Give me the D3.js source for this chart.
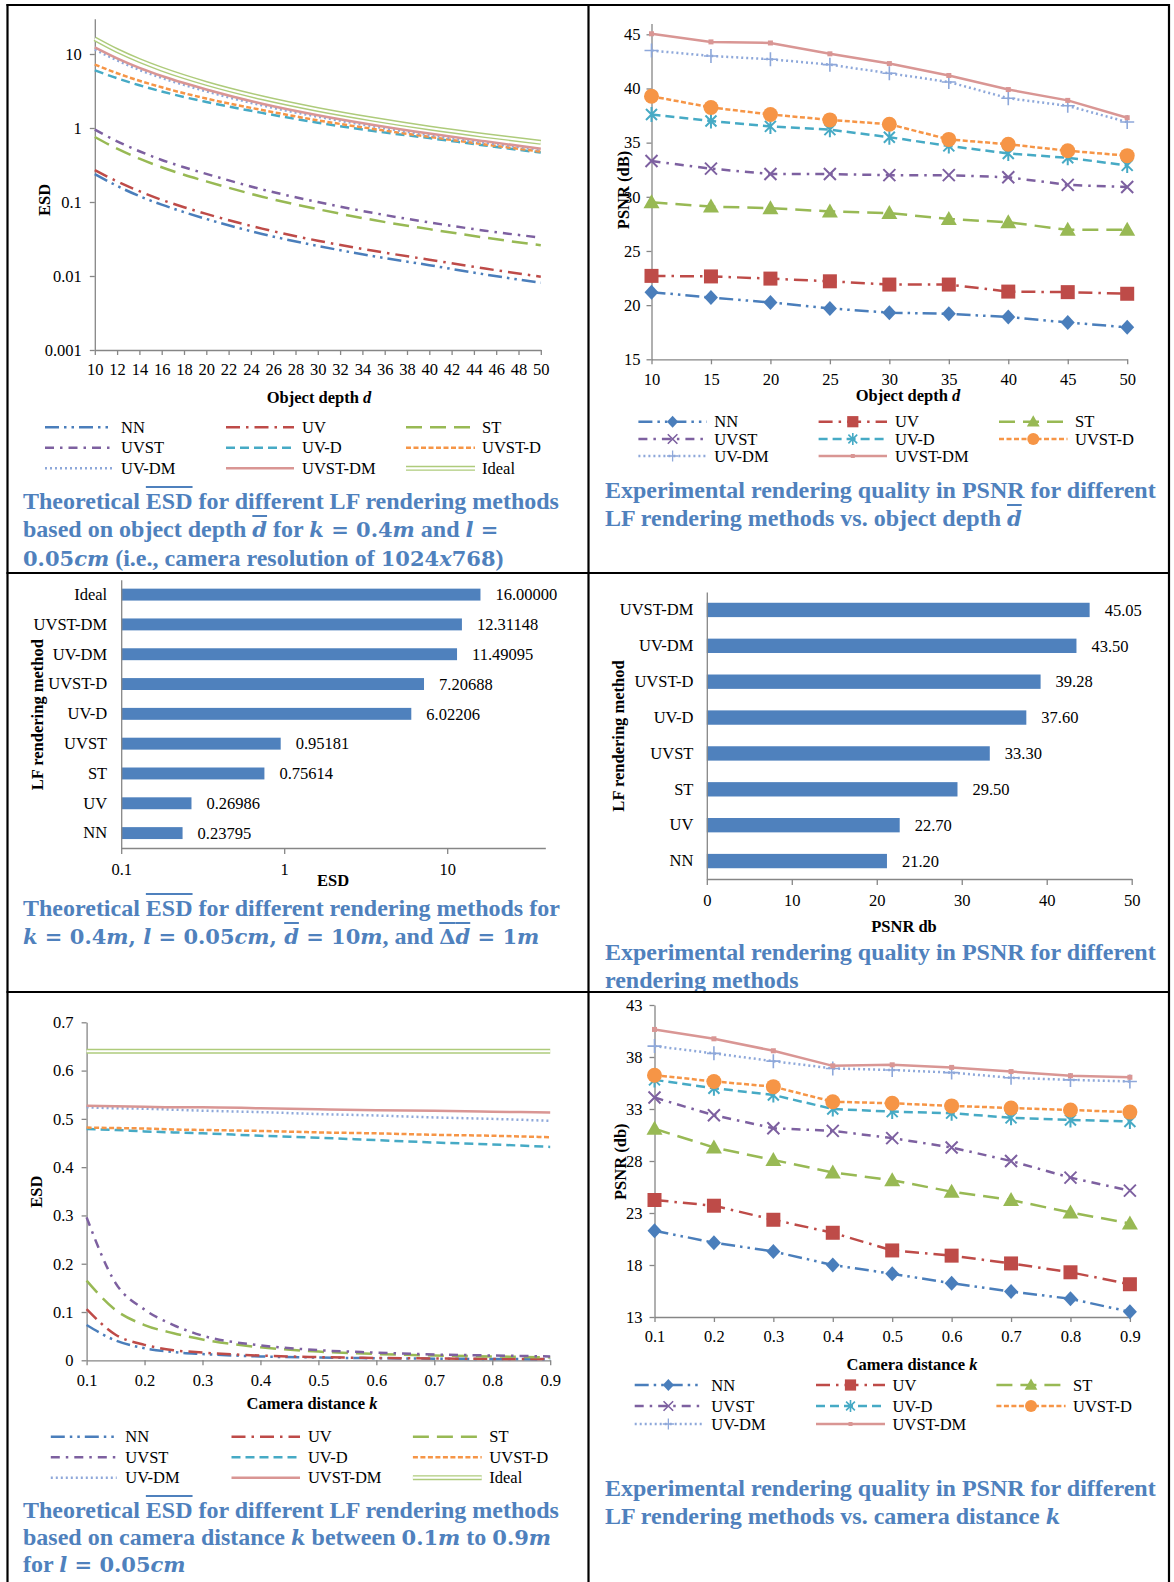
<!DOCTYPE html>
<html>
<head>
<meta charset="utf-8">
<script src="https://cdn.jsdelivr.net/npm/d3@7"></script>
<style>
  body { margin: 0; background: #fff; }
  #wrap { position: relative; width: 1174px; height: 1582px; overflow: hidden; background: #fff; }
  #wrap svg { position: absolute; left: 0; top: 0; }
  .cap { position: absolute; font-family: "Liberation Serif", "Times New Roman", serif; font-weight: bold;
         font-size: 24px; color: #4F81BD; line-height: 28px; white-space: nowrap; }
  .cap.tight { line-height: 27px; }
  .m { font-family: "DejaVu Serif", serif; font-size: 21px; }
  .ov { text-decoration: overline; text-decoration-thickness: 1.5px; }
</style>
</head>
<body>
<div id="wrap"></div>
<script>
// ---------- data ----------
const seriesNames = ["NN", "UV", "ST", "UVST", "UV-D", "UVST-D", "UV-DM", "UVST-DM", "Ideal"];

// Theoretical ESD vs object depth d (k = 0.4 m, l = 0.05 cm)
const depthD = [10, 12, 14, 16, 18, 20, 25, 30, 35, 40, 45, 50];
const esdDepthNN      = [0.238, 0.165, 0.12, 0.092, 0.073, 0.059, 0.037, 0.0255, 0.0185, 0.014, 0.0105, 0.0081];
const esdDepthUV      = [0.27, 0.19, 0.14, 0.107, 0.085, 0.069, 0.0437, 0.030, 0.0219, 0.0166, 0.0126, 0.0098];
const esdDepthST      = [0.756, 0.525, 0.385, 0.295, 0.233, 0.19, 0.118, 0.08, 0.057, 0.043, 0.033, 0.026];
const esdDepthUVST    = [0.952, 0.66, 0.485, 0.37, 0.295, 0.24, 0.148, 0.10, 0.071, 0.053, 0.041, 0.033];
const esdDepthUVD     = [6.02, 4.7, 3.78, 3.12, 2.62, 2.25, 1.6, 1.18, 0.91, 0.73, 0.58, 0.465];
const esdDepthUVSTD   = [7.21, 5.5, 4.35, 3.55, 2.95, 2.5, 1.75, 1.27, 0.97, 0.76, 0.6, 0.48];
const esdDepthUVDM    = [11.49, 8.2, 6.1, 4.75, 3.82, 3.13, 2.02, 1.42, 1.05, 0.80, 0.63, 0.51];
const esdDepthUVSTDM  = [12.31, 8.75, 6.5, 5.05, 4.05, 3.32, 2.13, 1.49, 1.1, 0.84, 0.66, 0.525];
const esdDepthIdeal   = [16, 11.11, 8.16, 6.25, 4.94, 4.0, 2.56, 1.78, 1.31, 1.0, 0.79, 0.64];
const esdDepthTicks   = [0.001, 0.01, 0.1, 1, 10];

// Experimental PSNR vs object depth d
const psnrDepthD        = [10, 15, 20, 25, 30, 35, 40, 45, 50];
const psnrDepthNN       = [21.2, 20.7, 20.25, 19.7, 19.3, 19.2, 18.9, 18.4, 17.95];
const psnrDepthUV       = [22.7, 22.65, 22.45, 22.2, 21.9, 21.9, 21.25, 21.2, 21.05];
const psnrDepthST       = [29.5, 29.1, 28.95, 28.65, 28.5, 27.95, 27.65, 26.95, 26.95];
const psnrDepthUVST     = [33.3, 32.6, 32.1, 32.1, 32.0, 32.0, 31.8, 31.1, 30.9];
const psnrDepthUVD      = [37.6, 37.0, 36.5, 36.2, 35.5, 34.7, 34.0, 33.6, 32.9];
const psnrDepthUVSTD    = [39.28, 38.25, 37.6, 37.1, 36.7, 35.3, 34.85, 34.25, 33.8];
const psnrDepthUVDM     = [43.5, 43.0, 42.7, 42.2, 41.4, 40.6, 39.1, 38.4, 36.9];
const psnrDepthUVSTDM   = [45.05, 44.3, 44.2, 43.2, 42.3, 41.2, 39.9, 38.9, 37.3];
const psnrDepthTicks    = [15, 20, 25, 30, 35, 40, 45];

// Theoretical ESD per method (k = 0.4 m, l = 0.05 cm, d = 10 m)
const barEsdMethods = ["Ideal", "UVST-DM", "UV-DM", "UVST-D", "UV-D", "UVST", "ST", "UV", "NN"];
const barEsdValues  = [16.0, 12.31148, 11.49095, 7.20688, 6.02206, 0.95181, 0.75614, 0.26986, 0.23795];
const barEsdTicks   = [0.1, 1, 10];

// Experimental PSNR per method
const barPsnrMethods = ["UVST-DM", "UV-DM", "UVST-D", "UV-D", "UVST", "ST", "UV", "NN"];
const barPsnrValues  = [45.05, 43.50, 39.28, 37.60, 33.30, 29.50, 22.70, 21.20];
const barPsnrTicks   = [0, 10, 20, 30, 40, 50];

// Theoretical ESD vs camera distance k (l = 0.05 cm)
const camK            = [0.1, 0.15, 0.2, 0.25, 0.3, 0.4, 0.5, 0.6, 0.7, 0.8, 0.9];
const esdCamNN        = [0.073, 0.041, 0.025, 0.017, 0.013, 0.008, 0.0057, 0.0043, 0.0034, 0.0027, 0.0023];
const esdCamUV        = [0.106, 0.053, 0.032, 0.021, 0.016, 0.0098, 0.0066, 0.0048, 0.0037, 0.0029, 0.0024];
const esdCamST        = [0.165, 0.104, 0.073, 0.056, 0.043, 0.027, 0.018, 0.013, 0.010, 0.008, 0.006];
const esdCamUVST      = [0.296, 0.16, 0.105, 0.073, 0.051, 0.031, 0.021, 0.016, 0.012, 0.010, 0.008];
const esdCamUVD       = [0.479, 0.477, 0.474, 0.472, 0.470, 0.465, 0.461, 0.456, 0.451, 0.447, 0.442];
const esdCamUVSTD     = [0.482, 0.481, 0.480, 0.478, 0.477, 0.475, 0.472, 0.470, 0.467, 0.465, 0.462];
const esdCamUVDM      = [0.524, 0.522, 0.521, 0.519, 0.517, 0.514, 0.510, 0.507, 0.503, 0.500, 0.496];
const esdCamUVSTDM    = [0.527, 0.526, 0.525, 0.524, 0.524, 0.522, 0.520, 0.518, 0.517, 0.515, 0.513];
const esdCamIdeal     = [0.64, 0.64, 0.64, 0.64, 0.64, 0.64, 0.64, 0.64, 0.64, 0.64, 0.64];
const esdCamTicks     = [0, 0.1, 0.2, 0.3, 0.4, 0.5, 0.6, 0.7];
const camKTicks       = [0.1, 0.2, 0.3, 0.4, 0.5, 0.6, 0.7, 0.8, 0.9];

// Experimental PSNR vs camera distance k
const psnrCamK        = [0.1, 0.2, 0.3, 0.4, 0.5, 0.6, 0.7, 0.8, 0.9];
const psnrCamNN       = [21.3, 20.15, 19.3, 18.0, 17.15, 16.25, 15.45, 14.75, 13.5];
const psnrCamUV       = [24.25, 23.7, 22.35, 21.1, 19.4, 18.9, 18.15, 17.3, 16.15];
const psnrCamST       = [31.1, 29.3, 28.1, 26.9, 26.15, 25.05, 24.25, 23.05, 22.0];
const psnrCamUVST     = [34.1, 32.4, 31.15, 30.9, 30.2, 29.3, 28.0, 26.4, 25.15];
const psnrCamUVD      = [35.8, 35.0, 34.35, 33.0, 32.75, 32.6, 32.15, 31.95, 31.8];
const psnrCamUVSTD    = [36.25, 35.65, 35.15, 33.7, 33.55, 33.3, 33.1, 32.9, 32.7];
const psnrCamUVDM     = [39.05, 38.35, 37.6, 36.9, 36.75, 36.5, 36.0, 35.8, 35.65];
const psnrCamUVSTDM   = [40.65, 39.75, 38.6, 37.15, 37.25, 37.0, 36.6, 36.2, 36.05];
const psnrCamTicks    = [13, 18, 23, 28, 33, 38, 43];

// ---------- styles ----------
const FONT = "'Liberation Serif','Times New Roman',serif";
const FS = 16.5;
const AXIS = "#868686";
const BAR = "#4F81BD";
const STY = {
  "NN":      { c: "#4A7EBB", dash: "14 5 2.5 5 2.5 5", mk: "diamond" },
  "UV":      { c: "#BE4B48", dash: "14 6 2.5 6",       mk: "square" },
  "ST":      { c: "#98B954", dash: "16 8",             mk: "triangle" },
  "UVST":    { c: "#7D60A0", dash: "9 6 2.5 6",        mk: "x" },
  "UV-D":    { c: "#46AAC5", dash: "9 5",              mk: "star" },
  "UVST-D":  { c: "#F69546", dash: "5 2.5",            mk: "circle" },
  "UV-DM":   { c: "#8EA8DA", dash: "2 3",              mk: "plus" },
  "UVST-DM": { c: "#D99694", dash: null,               mk: "smallsq" },
  "Ideal":   { c: "#AECB7B", dash: null,               double: true }
};

const wrap = d3.select("#wrap");
const svg = wrap.append("svg").attr("width", 1174).attr("height", 1582);

// ---------- helpers ----------
function styleAxis(g) {
  g.select(".domain").attr("stroke", AXIS).attr("stroke-width", 1.3);
  g.selectAll(".tick line").attr("stroke", AXIS).attr("stroke-width", 1.3);
  g.selectAll(".tick text").attr("font-family", FONT).attr("font-size", FS).attr("fill", "#000");
}

function title(txt, x, y, rotate, italicTail) {
  const t = svg.append("text")
    .attr("font-family", FONT).attr("font-size", FS).attr("font-weight", "bold")
    .attr("text-anchor", "middle").attr("dy", "0.35em")
    .attr("transform", rotate ? `translate(${x},${y}) rotate(-90)` : `translate(${x},${y})`);
  t.append("tspan").text(txt);
  if (italicTail) t.append("tspan").attr("font-style", "italic").text(italicTail);
}

function marker(g, type, c, cx, cy, k) {
  const s = g.append("g").attr("transform", `translate(${cx},${cy}) scale(${k})`);
  switch (type) {
    case "diamond":  s.append("path").attr("d", "M0,-7.5L7,0L0,7.5L-7,0Z").attr("fill", c); break;
    case "square":   s.append("rect").attr("x", -7).attr("y", -7).attr("width", 14).attr("height", 14).attr("fill", c); break;
    case "triangle": s.append("path").attr("d", "M0,-8L8,6L-8,6Z").attr("fill", c); break;
    case "x":        s.append("path").attr("d", "M-6,-6L6,6M-6,6L6,-6").attr("stroke", c).attr("stroke-width", 2); break;
    case "star":     s.append("path").attr("d", "M-5.5,-5.5L5.5,5.5M-5.5,5.5L5.5,-5.5M0,-7.5L0,7.5").attr("stroke", c).attr("stroke-width", 2); break;
    case "circle":   s.append("circle").attr("r", 7.5).attr("fill", c); break;
    case "plus":     s.append("path").attr("d", "M-7,0L7,0M0,-7L0,7").attr("stroke", c).attr("stroke-width", 1.6); break;
    case "smallsq":  s.append("rect").attr("x", -2.5).attr("y", -2.5).attr("width", 5).attr("height", 5).attr("fill", c); break;
  }
}

function drawLines(g, x, y, xs, series, opts) {
  series.forEach(s => {
    const st = STY[s.name];
    const line = d3.line().x((d, i) => x(xs[i])).y(d => y(d)).curve(opts.curve || d3.curveLinear);
    if (st.double) {
      g.append("path").attr("d", line(s.v)).attr("fill", "none").attr("stroke", st.c).attr("stroke-width", 5);
      g.append("path").attr("d", line(s.v)).attr("fill", "none").attr("stroke", "#fff").attr("stroke-width", 2.2);
    } else {
      g.append("path").attr("d", line(s.v)).attr("fill", "none")
        .attr("stroke", st.c).attr("stroke-width", opts.lw || 2.5)
        .attr("stroke-dasharray", st.dash);
    }
    if (opts.markers) s.v.forEach((d, i) => marker(g, st.mk, st.c, x(xs[i]), y(d), 1));
  });
}

function legend(names, cols, rows, withMarkers) {
  const g = svg.append("g");
  names.forEach((n, i) => {
    const col = cols[i % 3], ry = rows[Math.floor(i / 3)];
    const st = STY[n];
    if (st.double) {
      g.append("line").attr("x1", col[0]).attr("x2", col[1]).attr("y1", ry).attr("y2", ry)
        .attr("stroke", st.c).attr("stroke-width", 5);
      g.append("line").attr("x1", col[0]).attr("x2", col[1]).attr("y1", ry).attr("y2", ry)
        .attr("stroke", "#fff").attr("stroke-width", 2.2);
    } else {
      g.append("line").attr("x1", col[0]).attr("x2", col[1]).attr("y1", ry).attr("y2", ry)
        .attr("stroke", st.c).attr("stroke-width", 2.5).attr("stroke-dasharray", st.dash);
    }
    if (withMarkers) marker(g, st.mk, st.c, (col[0] + col[1]) / 2, ry, 0.8);
    g.append("text").attr("x", col[2]).attr("y", ry).attr("dy", "0.35em")
      .attr("font-family", FONT).attr("font-size", FS).text(n);
  });
}

// ---------- panel 1: theoretical ESD vs object depth ----------
{
  const x = d3.scaleLinear().domain([10, 50]).range([94.8, 540.8]);
  const y = d3.scaleLog().domain([0.001, 30]).range([350, 350 - Math.log10(30 / 0.001) * 74]);
  const g = svg.append("g");
  g.append("g").attr("transform", "translate(0,350)")
    .call(d3.axisBottom(x).tickValues(d3.range(10, 51, 2)).tickSize(5).tickSizeOuter(0).tickPadding(8.5))
    .call(styleAxis);
  g.append("g").attr("transform", "translate(94.8,0)")
    .call(d3.axisLeft(y).tickValues(esdDepthTicks).tickFormat(d3.format("~g")).tickSize(5).tickSizeOuter(0).tickPadding(8))
    .call(styleAxis);
  const series = [
    { name: "NN", v: esdDepthNN }, { name: "UV", v: esdDepthUV }, { name: "ST", v: esdDepthST },
    { name: "UVST", v: esdDepthUVST }, { name: "UV-D", v: esdDepthUVD }, { name: "UVST-D", v: esdDepthUVSTD },
    { name: "UV-DM", v: esdDepthUVDM }, { name: "UVST-DM", v: esdDepthUVSTDM }, { name: "Ideal", v: esdDepthIdeal }
  ];
  drawLines(g, x, y, depthD, series, { curve: d3.curveMonotoneX, lw: 2.5 });
  title("ESD", 44.4, 200, true);
  title("Object depth ", 319, 397, false, "d");
  legend(seriesNames, [[45, 113, 121], [226, 294, 302], [406, 475, 482]], [427.3, 447.7, 468.3], false);
}

// ---------- panel 2: experimental PSNR vs object depth ----------
{
  const x = d3.scaleLinear().domain([10, 50]).range([651.5, 1127.2]);
  const y = d3.scaleLinear().domain([15, 46]).range([359.3, 359.3 - 31 * 10.833]);
  const g = svg.append("g");
  g.append("g").attr("transform", "translate(0,359.3)")
    .call(d3.axisBottom(x).tickValues(psnrDepthD).tickSize(5).tickSizeOuter(0).tickPadding(8.5))
    .call(styleAxis);
  g.append("g").attr("transform", "translate(651.5,0)")
    .call(d3.axisLeft(y).tickValues(psnrDepthTicks).tickSize(5).tickSizeOuter(0).tickPadding(6))
    .call(styleAxis);
  const series = [
    { name: "NN", v: psnrDepthNN }, { name: "UV", v: psnrDepthUV }, { name: "ST", v: psnrDepthST },
    { name: "UVST", v: psnrDepthUVST }, { name: "UV-D", v: psnrDepthUVD }, { name: "UVST-D", v: psnrDepthUVSTD },
    { name: "UV-DM", v: psnrDepthUVDM }, { name: "UVST-DM", v: psnrDepthUVSTDM }
  ];
  drawLines(g, x, y, psnrDepthD, series, { markers: true, lw: 2.5 });
  title("PSNR (dB)", 623.5, 190, true);
  title("Object depth ", 908, 395, false, "d");
  legend(seriesNames.slice(0, 8), [[638.4, 706.8, 714.3], [818.6, 887, 895], [999, 1067.5, 1075]], [421.7, 439, 456], true);
}

// ---------- panel 3: theoretical ESD per method (log bars) ----------
{
  const x = d3.scaleLog().domain([0.1, 40]).range([121.2, 121.2 + Math.log10(400) * 163]);
  const y = d3.scaleBand().domain(barEsdMethods).range([579.7, 848]).paddingInner(0.6).paddingOuter(0.3);
  const g = svg.append("g");
  g.selectAll("rect.b").data(barEsdMethods).join("rect")
    .attr("x", x(0.1)).attr("y", d => y(d))
    .attr("width", (d, i) => x(barEsdValues[i]) - x(0.1)).attr("height", y.bandwidth())
    .attr("fill", BAR);
  g.selectAll("text.v").data(barEsdMethods).join("text")
    .attr("x", (d, i) => x(barEsdValues[i]) + 15).attr("y", d => y(d) + y.bandwidth() / 2).attr("dy", "0.35em")
    .attr("font-family", FONT).attr("font-size", FS)
    .text((d, i) => d3.format(".5f")(barEsdValues[i]));
  g.append("g").attr("transform", "translate(0,848)")
    .call(d3.axisBottom(x).tickValues(barEsdTicks).tickFormat(d3.format("~g")).tickSize(6).tickSizeOuter(0).tickPadding(9))
    .call(styleAxis);
  g.append("g").attr("transform", "translate(121.2,0)")
    .call(d3.axisLeft(y).tickSize(0).tickSizeOuter(0).tickPadding(14))
    .call(styleAxis);
  title("LF rendering method", 36.9, 714.7, true);
  title("ESD", 333, 880, false);
}

// ---------- panel 4: experimental PSNR per method ----------
{
  const x = d3.scaleLinear().domain([0, 50]).range([706.8, 1131.7]);
  const y = d3.scaleBand().domain(barPsnrMethods).range([592, 879]).paddingInner(0.6).paddingOuter(0.3);
  const g = svg.append("g");
  g.selectAll("rect.b").data(barPsnrMethods).join("rect")
    .attr("x", x(0)).attr("y", d => y(d))
    .attr("width", (d, i) => x(barPsnrValues[i]) - x(0)).attr("height", y.bandwidth())
    .attr("fill", BAR);
  g.selectAll("text.v").data(barPsnrMethods).join("text")
    .attr("x", (d, i) => x(barPsnrValues[i]) + 15).attr("y", d => y(d) + y.bandwidth() / 2).attr("dy", "0.35em")
    .attr("font-family", FONT).attr("font-size", FS)
    .text((d, i) => d3.format(".2f")(barPsnrValues[i]));
  g.append("g").attr("transform", "translate(0,879)")
    .call(d3.axisBottom(x).tickValues(barPsnrTicks).tickSize(6).tickSizeOuter(0).tickPadding(9))
    .call(styleAxis);
  g.append("g").attr("transform", "translate(706.8,0)")
    .call(d3.axisLeft(y).tickSize(0).tickSizeOuter(0).tickPadding(13.4))
    .call(styleAxis);
  title("LF rendering method", 618.6, 736, true);
  title("PSNR db", 904, 926, false);
}

// ---------- panel 5: theoretical ESD vs camera distance ----------
{
  const x = d3.scaleLinear().domain([0.1, 0.9]).range([86.6, 550.2]);
  const y = d3.scaleLinear().domain([0, 0.7]).range([1360.3, 1022.3]);
  const g = svg.append("g");
  g.append("g").attr("transform", "translate(0,1360.3)")
    .call(d3.axisBottom(x).tickValues(camKTicks).tickFormat(d3.format(".1f")).tickSize(5).tickSizeOuter(0).tickPadding(8.5))
    .call(styleAxis);
  g.append("g").attr("transform", "translate(86.6,0)")
    .call(d3.axisLeft(y).tickValues(esdCamTicks).tickFormat(d => d === 0 ? "0" : d3.format(".1f")(d)).tickSize(5).tickSizeOuter(0).tickPadding(8))
    .call(styleAxis);
  const series = [
    { name: "NN", v: esdCamNN }, { name: "UV", v: esdCamUV }, { name: "ST", v: esdCamST },
    { name: "UVST", v: esdCamUVST }, { name: "UV-D", v: esdCamUVD }, { name: "UVST-D", v: esdCamUVSTD },
    { name: "UV-DM", v: esdCamUVDM }, { name: "UVST-DM", v: esdCamUVSTDM }, { name: "Ideal", v: esdCamIdeal }
  ];
  drawLines(g, x, y, camK, series, { curve: d3.curveMonotoneX, lw: 2.5 });
  title("ESD", 36.5, 1191.7, true);
  title("Camera distance ", 312, 1403, false, "k");
  legend(seriesNames, [[50.8, 116.7, 125.3], [231.5, 300, 307.9], [412.9, 481.7, 489.3]], [1436.7, 1457.3, 1477.7], false);
}

// ---------- panel 6: experimental PSNR vs camera distance ----------
{
  const x = d3.scaleLinear().domain([0.1, 0.9]).range([654.5, 1129.9]);
  const y = d3.scaleLinear().domain([13, 43]).range([1317, 1005]);
  const g = svg.append("g");
  g.append("g").attr("transform", "translate(0,1317)")
    .call(d3.axisBottom(x).tickValues(psnrCamK).tickFormat(d3.format(".1f")).tickSize(5).tickSizeOuter(0).tickPadding(8.5))
    .call(styleAxis);
  g.append("g").attr("transform", "translate(654.5,0)")
    .call(d3.axisLeft(y).tickValues(psnrCamTicks).tickSize(5).tickSizeOuter(0).tickPadding(7))
    .call(styleAxis);
  const series = [
    { name: "NN", v: psnrCamNN }, { name: "UV", v: psnrCamUV }, { name: "ST", v: psnrCamST },
    { name: "UVST", v: psnrCamUVST }, { name: "UV-D", v: psnrCamUVD }, { name: "UVST-D", v: psnrCamUVSTD },
    { name: "UV-DM", v: psnrCamUVDM }, { name: "UVST-DM", v: psnrCamUVSTDM }
  ];
  drawLines(g, x, y, psnrCamK, series, { markers: true, lw: 2.5 });
  title("PSNR (db)", 619.8, 1161.7, true);
  title("Camera distance ", 912, 1364, false, "k");
  legend(seriesNames.slice(0, 8), [[634.7, 702, 711.3], [816, 885, 892.6], [996.4, 1065.6, 1073]], [1385, 1406, 1424], true);
}

// ---------- captions ----------
const captions = [
  { x: 23, y: 487, lines: [
    'Theoretical <span class="ov">ESD</span> for different LF rendering methods',
    'based on object depth <span class="m ov"><i>d</i></span> for <span class="m"><i>k</i> = 0.4<i>m</i></span> and <span class="m"><i>l</i> =</span>',
    '<span class="m">0.05<i>cm</i></span> (i.e., camera resolution of <span class="m">1024<i>x</i>768</span>)'
  ]},
  { x: 605, y: 476, lines: [
    'Experimental rendering quality in PSNR for different',
    'LF rendering methods vs. object depth <span class="m ov"><i>d</i></span>'
  ]},
  { x: 23, y: 894, lines: [
    'Theoretical <span class="ov">ESD</span> for different rendering methods for',
    '<span class="m"><i>k</i> = 0.4<i>m</i>, <i>l</i> = 0.05<i>cm</i>, <span class="ov"><i>d</i></span> = 10<i>m</i></span>, and <span class="m"><span class="ov">Δ<i>d</i></span> = 1<i>m</i></span>'
  ]},
  { x: 605, y: 938, lines: [
    'Experimental rendering quality in PSNR for different',
    'rendering methods'
  ]},
  { x: 23, y: 1497, tight: true, lines: [
    'Theoretical <span class="ov">ESD</span> for different LF rendering methods',
    'based on camera distance <span class="m"><i>k</i></span> between <span class="m">0.1<i>m</i></span> to <span class="m">0.9<i>m</i></span>',
    'for <span class="m"><i>l</i> = 0.05<i>cm</i></span>'
  ]},
  { x: 605, y: 1474, lines: [
    'Experimental rendering quality in PSNR for different',
    'LF rendering methods vs. camera distance <span class="m"><i>k</i></span>'
  ]}
];
captions.forEach(c => {
  wrap.append("div").attr("class", c.tight ? "cap tight" : "cap")
    .style("left", c.x + "px").style("top", c.y + "px")
    .html(c.lines.join("<br>"));
});

// ---------- table borders (drawn above the captions) ----------
const frame = wrap.append("svg").attr("width", 1174).attr("height", 1582).style("pointer-events", "none");
const hLines = [5, 573, 992];
const vLines = [7.5, 588.5, 1169];
frame.selectAll("line.h").data(hLines).join("line")
  .attr("x1", 6.5).attr("x2", 1170).attr("y1", d => d).attr("y2", d => d)
  .attr("stroke", "#000").attr("stroke-width", 2.2);
frame.selectAll("line.v").data(vLines).join("line")
  .attr("x1", d => d).attr("x2", d => d).attr("y1", 4).attr("y2", 1582)
  .attr("stroke", "#000").attr("stroke-width", 2.2);
</script>
</body>
</html>
